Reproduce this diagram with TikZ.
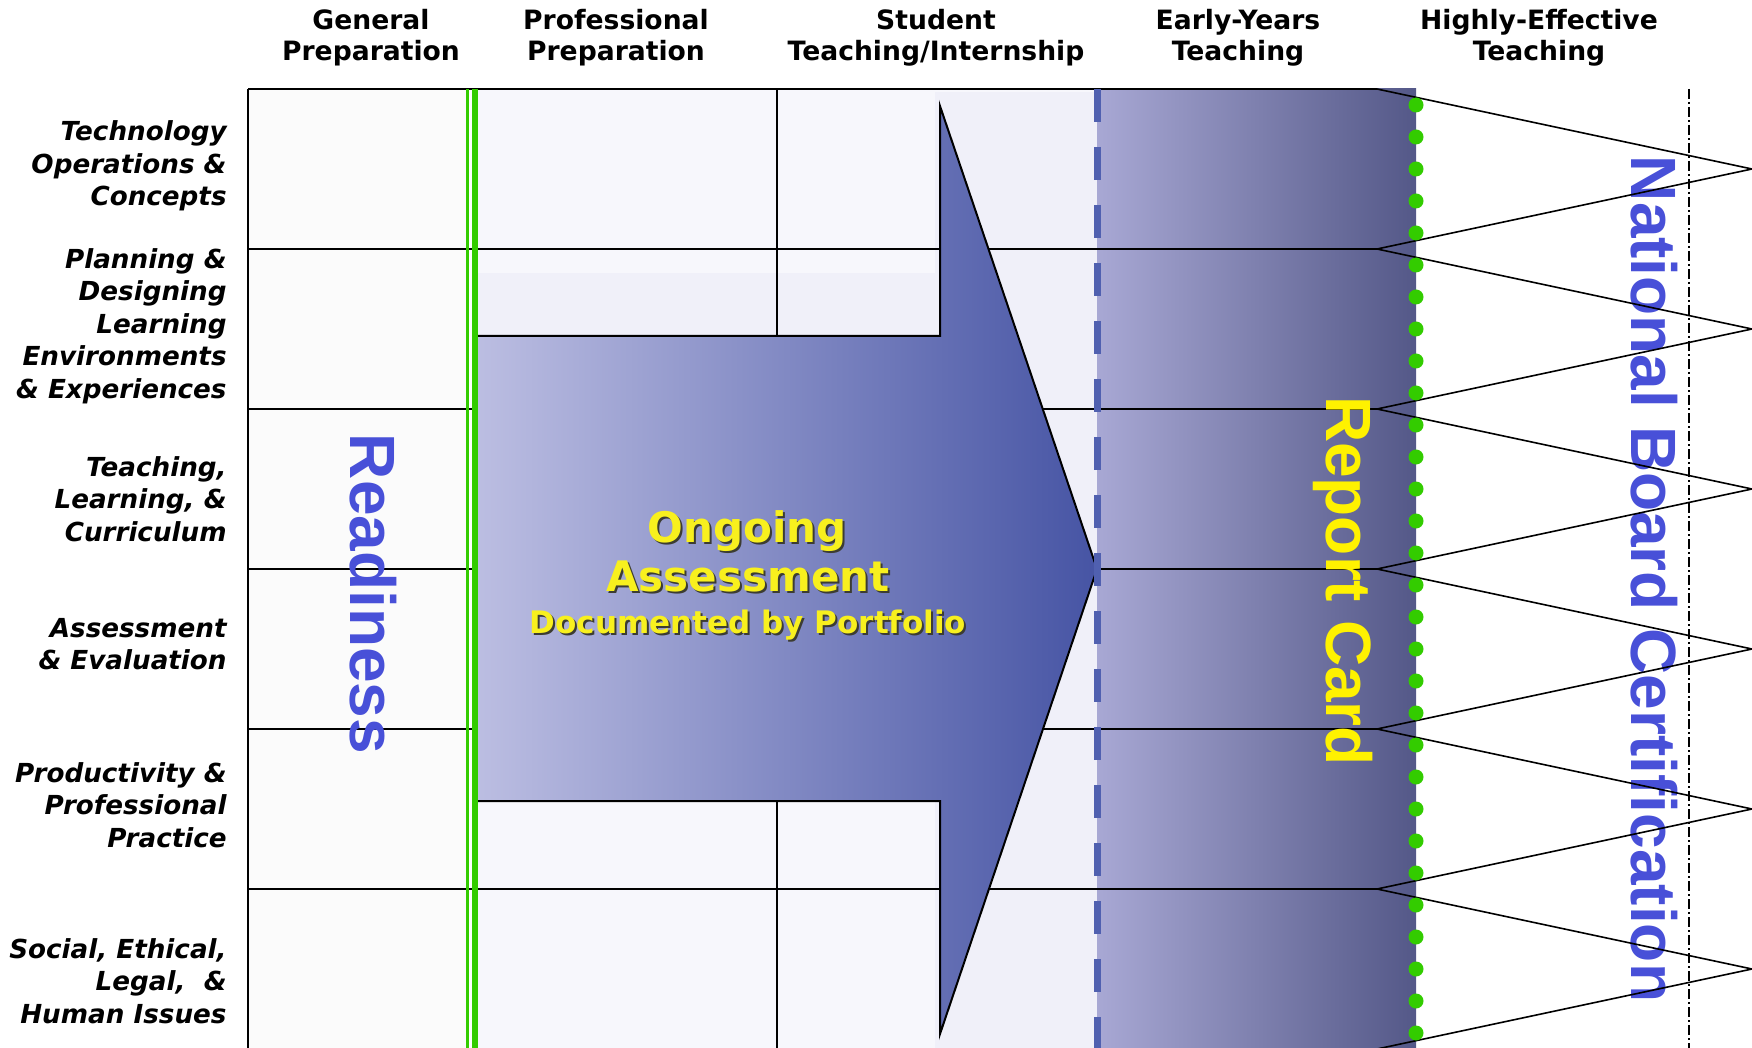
\documentclass[tikz,border=0pt]{standalone}
\usepackage{fontspec}
\setmainfont{DejaVu Sans}
\newfontfamily\bigfont{Liberation Sans}
\usepackage{tikz}
\usetikzlibrary{positioning}
\usepackage{xcolor}
\definecolor{nbblue}{RGB}{72,80,216}
\definecolor{rdgreen}{RGB}{51,204,0}
\definecolor{arrowlight}{RGB}{188,190,226}
\definecolor{arrowdark}{RGB}{70,84,164}
\definecolor{bandlight}{RGB}{168,168,212}
\definecolor{banddark}{RGB}{84,88,136}
\definecolor{dashblue}{RGB}{80,96,176}
\definecolor{ongoingyellow}{RGB}{248,240,30}
\definecolor{ongoingshadow}{RGB}{60,60,50}
\definecolor{cellgray}{RGB}{251,251,251}
\definecolor{celllav}{RGB}{247,247,252}
\definecolor{celldense}{RGB}{240,240,249}
\newcommand{\dropshadow}[1]{\leavevmode\rlap{\kern1pt\raisebox{-1pt}{\color{ongoingshadow}#1}}#1}
\tikzstyle{header} = [align=center, font=\fontsize{13.3}{15.5}\selectfont\bfseries]
\tikzstyle{rowlabel} = [anchor=east, align=right, inner sep=0pt, font=\fontsize{13.1}{16.2}\selectfont\bfseries\itshape]
\tikzstyle{bigword} = [rotate=-90, text depth=0pt, inner sep=0pt, font=\fontsize{32}{36}\selectfont\bigfont\bfseries]
\tikzstyle{ongoingtext} = [text=ongoingyellow, inner sep=0pt]
\tikzstyle{gridline} = [line width=0.8pt, black]

\begin{document}
\begin{tikzpicture}[x=0.5pt, y=-0.5pt]
\useasboundingbox (0,0) rectangle (1752,1048);

% Cell backgrounds
\fill[cellgray] (248,89) rectangle (467,1048);
\fill[celllav] (476,89) rectangle (1097,1048);
\fill[celldense] (935,92) rectangle (1097,1048);
\fill[celldense] (476,273) rectangle (935,336);

% Report card band
\shade[left color=bandlight, right color=banddark] (1097,89) rectangle (1416,1048);

% Grid lines
\foreach \y in {89,249,409,569,729,889}
  \draw[gridline] (248,\y) -- (1377,\y);
\draw[gridline] (248,89) -- (248,1048);
\draw[gridline] (777,89) -- (777,1048);

% Readiness
\node (readiness) [bigword, text=nbblue] at (374,594) {Readiness};

% Ongoing assessment arrow
\draw[line width=1pt, left color=arrowlight, right color=arrowdark]
  (476,336) -- (940,336) -- (940,106) -- (1097,569) -- (940,1034) -- (940,801) -- (476,801) -- cycle;
\node (ongoing) [ongoingtext, font=\fontsize{21}{24}\selectfont\bfseries] at (747,532) {\dropshadow{Ongoing}};
\node (assessment) [ongoingtext, font=\fontsize{21}{24}\selectfont\bfseries] at (748,577) {\dropshadow{Assessment}};
\node (portfolio) [ongoingtext, font=\fontsize{15.5}{18}\selectfont\bfseries] at (748,626) {\dropshadow{Documented by Portfolio}};

% Report card
\node (reportcard) [bigword, text=yellow] at (1350,581) {Report Card};

% Boundaries
\draw[dashblue, line width=3.5pt, dash pattern=on 16.5pt off 12.5pt] (1097,89) -- (1097,1048);
\draw[rdgreen, line width=1.5pt] (467,89) -- (467,1048);
\draw[rdgreen, line width=3pt] (474.5,89) -- (474.5,1048);

% National board certification
\node (national) [bigword, text=nbblue] at (1655,579) {National Board Certification};
\draw[gridline] (1377,89) \foreach \k in {0,...,5} { -- (1752,169+160*\k) -- (1377,249+160*\k) };
\foreach \k in {0,...,29}
  \fill[rdgreen] (1416,105+32*\k) circle (3.75pt);
\draw[black, line width=0.75pt, dash pattern=on 5pt off 1.5pt on 1pt off 1.5pt] (1689,89) -- (1689,1048);

% Column headers
\node (general) [header] at (371,38) {General\\Preparation};
\node (professional) [header] at (616,38) {Professional\\Preparation};
\node (student) [header] at (936,38) {Student\\Teaching/Internship};
\node (earlyyears) [header] at (1238,38) {Early-Years\\Teaching};
\node (effective) [header] at (1539,38) {Highly-Effective\\Teaching};

% Row labels
\node (technology) [rowlabel] at (227,166) {Technology\\Operations \&\\Concepts};
\node (planning) [rowlabel] at (227,326) {Planning \&\\Designing\\Learning\\Environments\\\& Experiences};
\node (teaching) [rowlabel] at (227,499) {Teaching,\\Learning, \&\\Curriculum};
\node (evaluation) [rowlabel] at (227,644) {Assessment\\\& Evaluation};
\node (productivity) [rowlabel] at (227,805) {Productivity \&\\Professional\\Practice};
\node (social) [rowlabel] at (227,981) {Social, Ethical,\\Legal,~ \&\\Human Issues};
\end{tikzpicture}
\end{document}
